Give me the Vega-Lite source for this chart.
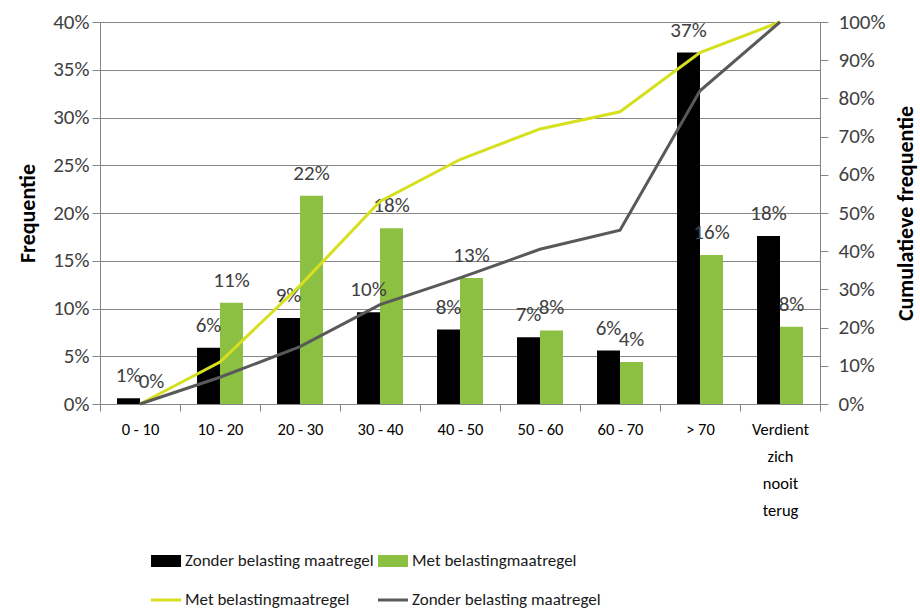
{
  "$schema": "https://vega.github.io/schema/vega-lite/v6.json",
  "width": 720,
  "height": 382,
  "autosize": {"type": "none"},
  "padding": {"left": 100, "top": 22, "right": 100, "bottom": 205},
  "background": "white",
  "config": {
    "font": "Carlito, Lato, sans-serif",
    "view": {"stroke": null},
    "axis": {
      "labelFont": "Carlito, Lato, sans-serif",
      "labelFontSize": 21,
      "labelColor": "#404040",
      "domainColor": "#868686",
      "tickColor": "#868686",
      "gridColor": "#868686",
      "titleFont": "Carlito, Lato, sans-serif",
      "titleFontSize": 22,
      "titleFontWeight": "bold",
      "titleColor": "#000000"
    }
  },
  "data": {
    "values": [
      {"cat": "0 - 10", "key": "Zonder belasting maatregel", "type": "bar", "value": 0.006},
      {"cat": "10 - 20", "key": "Zonder belasting maatregel", "type": "bar", "value": 0.059},
      {"cat": "20 - 30", "key": "Zonder belasting maatregel", "type": "bar", "value": 0.09},
      {"cat": "30 - 40", "key": "Zonder belasting maatregel", "type": "bar", "value": 0.096},
      {"cat": "40 - 50", "key": "Zonder belasting maatregel", "type": "bar", "value": 0.078},
      {"cat": "50 - 60", "key": "Zonder belasting maatregel", "type": "bar", "value": 0.07},
      {"cat": "60 - 70", "key": "Zonder belasting maatregel", "type": "bar", "value": 0.056},
      {"cat": "> 70", "key": "Zonder belasting maatregel", "type": "bar", "value": 0.368},
      {"cat": "Verdient zich nooit terug", "key": "Zonder belasting maatregel", "type": "bar", "value": 0.176},
      {"cat": "0 - 10", "key": "Met belastingmaatregel", "type": "bar", "value": 0.0},
      {"cat": "10 - 20", "key": "Met belastingmaatregel", "type": "bar", "value": 0.106},
      {"cat": "20 - 30", "key": "Met belastingmaatregel", "type": "bar", "value": 0.218},
      {"cat": "30 - 40", "key": "Met belastingmaatregel", "type": "bar", "value": 0.184},
      {"cat": "40 - 50", "key": "Met belastingmaatregel", "type": "bar", "value": 0.132},
      {"cat": "50 - 60", "key": "Met belastingmaatregel", "type": "bar", "value": 0.077},
      {"cat": "60 - 70", "key": "Met belastingmaatregel", "type": "bar", "value": 0.044},
      {"cat": "> 70", "key": "Met belastingmaatregel", "type": "bar", "value": 0.156},
      {"cat": "Verdient zich nooit terug", "key": "Met belastingmaatregel", "type": "bar", "value": 0.081},
      {"cat": "0 - 10", "key": "Met belastingmaatregel (lijn)", "type": "line", "value": 0.0},
      {"cat": "10 - 20", "key": "Met belastingmaatregel (lijn)", "type": "line", "value": 0.11},
      {"cat": "20 - 30", "key": "Met belastingmaatregel (lijn)", "type": "line", "value": 0.31},
      {"cat": "30 - 40", "key": "Met belastingmaatregel (lijn)", "type": "line", "value": 0.53},
      {"cat": "40 - 50", "key": "Met belastingmaatregel (lijn)", "type": "line", "value": 0.64},
      {"cat": "50 - 60", "key": "Met belastingmaatregel (lijn)", "type": "line", "value": 0.72},
      {"cat": "60 - 70", "key": "Met belastingmaatregel (lijn)", "type": "line", "value": 0.765},
      {"cat": "> 70", "key": "Met belastingmaatregel (lijn)", "type": "line", "value": 0.92},
      {"cat": "Verdient zich nooit terug", "key": "Met belastingmaatregel (lijn)", "type": "line", "value": 1.0},
      {"cat": "0 - 10", "key": "Zonder belasting maatregel (lijn)", "type": "line", "value": 0.0},
      {"cat": "10 - 20", "key": "Zonder belasting maatregel (lijn)", "type": "line", "value": 0.07},
      {"cat": "20 - 30", "key": "Zonder belasting maatregel (lijn)", "type": "line", "value": 0.15},
      {"cat": "30 - 40", "key": "Zonder belasting maatregel (lijn)", "type": "line", "value": 0.26},
      {"cat": "40 - 50", "key": "Zonder belasting maatregel (lijn)", "type": "line", "value": 0.33},
      {"cat": "50 - 60", "key": "Zonder belasting maatregel (lijn)", "type": "line", "value": 0.405},
      {"cat": "60 - 70", "key": "Zonder belasting maatregel (lijn)", "type": "line", "value": 0.455},
      {"cat": "> 70", "key": "Zonder belasting maatregel (lijn)", "type": "line", "value": 0.82},
      {"cat": "Verdient zich nooit terug", "key": "Zonder belasting maatregel (lijn)", "type": "line", "value": 1.0}
    ]
  },
  "layer": [
    {
      "transform": [{"filter": "datum.type === 'bar'"}],
      "encoding": {
        "x": {
          "field": "cat", "type": "nominal",
          "sort": ["0 - 10", "10 - 20", "20 - 30", "30 - 40", "40 - 50", "50 - 60", "60 - 70", "> 70", "Verdient zich nooit terug"],
          "scale": {"paddingInner": 0, "paddingOuter": 0},
          "title": null,
          "axis": {
            "labelAngle": 0, "tickBand": "extent", "tickSize": 7, "labelPadding": 10,
            "labelFontSize": 16.5,
            "labelLineHeight": 27, "labelBaseline": "top", "labelColor": "#000000",
            "labelExpr": "datum.label == 'Verdient zich nooit terug' ? ['Verdient', 'zich', 'nooit', 'terug'] : datum.label"
          }
        },
        "xOffset": {
          "field": "key", "type": "nominal",
          "sort": ["Zonder belasting maatregel", "Met belastingmaatregel"],
          "scale": {"paddingOuter": 0.74, "paddingInner": 0}
        },
        "y": {
          "field": "value", "type": "quantitative",
          "scale": {"domain": [0, 0.4]},
          "axis": {
            "format": ".0%", "values": [0, 0.05, 0.1, 0.15, 0.2, 0.25, 0.3, 0.35, 0.4],
            "grid": true, "tickSize": 8, "labelPadding": 3, "title": "Frequentie", "titlePadding": 13
          }
        }
      },
      "layer": [
        {
          "mark": {"type": "bar"},
          "encoding": {
            "color": {
              "field": "key", "type": "nominal",
              "scale": {
                "domain": ["Zonder belasting maatregel", "Met belastingmaatregel", "Met belastingmaatregel (lijn)", "Zonder belasting maatregel (lijn)"],
                "range": ["#000000", "#8cc043", "#d6e01e", "#595959"]
              },
              "legend": {
                "orient": "none", "legendX": 51, "legendY": 524, "columns": 2, "direction": "horizontal",
                "title": null, "labelFontSize": 17, "labelColor": "#1a1a1a", "labelOffset": 4, "labelLimit": 500,
                "columnPadding": 4, "rowPadding": 16, "symbolSize": 900, "symbolStrokeWidth": 0,
                "labelExpr": "replace(datum.label, ' (lijn)', '')",
                "encode": {
                  "symbols": {
                    "update": {
                      "shape": {"signal": "indexof(datum.value, 'lijn') >= 0 ? 'M-1,-0.1H1V0.1H-1Z' : 'M-1,-0.4H1V0.4H-1Z'"},
                      "fill": {"scale": "color", "field": "value"},
                      "strokeWidth": {"value": 0}
                    }
                  }
                }
              }
            }
          }
        },
        {
          "mark": {"type": "text", "dy": -16, "baseline": "alphabetic", "fontSize": 21, "color": "#404040"},
          "encoding": {
            "text": {"field": "value", "type": "quantitative", "format": ".0%"}
          }
        }
      ]
    },
    {
      "transform": [{"filter": "datum.type === 'line'"}],
      "mark": {"type": "line", "strokeWidth": 3},
      "encoding": {
        "x": {
          "field": "cat", "type": "nominal",
          "sort": ["0 - 10", "10 - 20", "20 - 30", "30 - 40", "40 - 50", "50 - 60", "60 - 70", "> 70", "Verdient zich nooit terug"],
          "title": null
        },
        "y": {
          "field": "value", "type": "quantitative",
          "scale": {"domain": [0, 1]},
          "axis": {
            "orient": "right", "format": ".0%", "values": [0, 0.1, 0.2, 0.3, 0.4, 0.5, 0.6, 0.7, 0.8, 0.9, 1],
            "grid": false, "tickSize": 8, "labelPadding": 10, "title": "Cumulatieve frequentie",
            "titleAngle": -90, "titlePadding": 33
          }
        },
        "color": {"field": "key", "type": "nominal"}
      }
    }
  ],
  "resolve": {"scale": {"y": "independent"}}
}
